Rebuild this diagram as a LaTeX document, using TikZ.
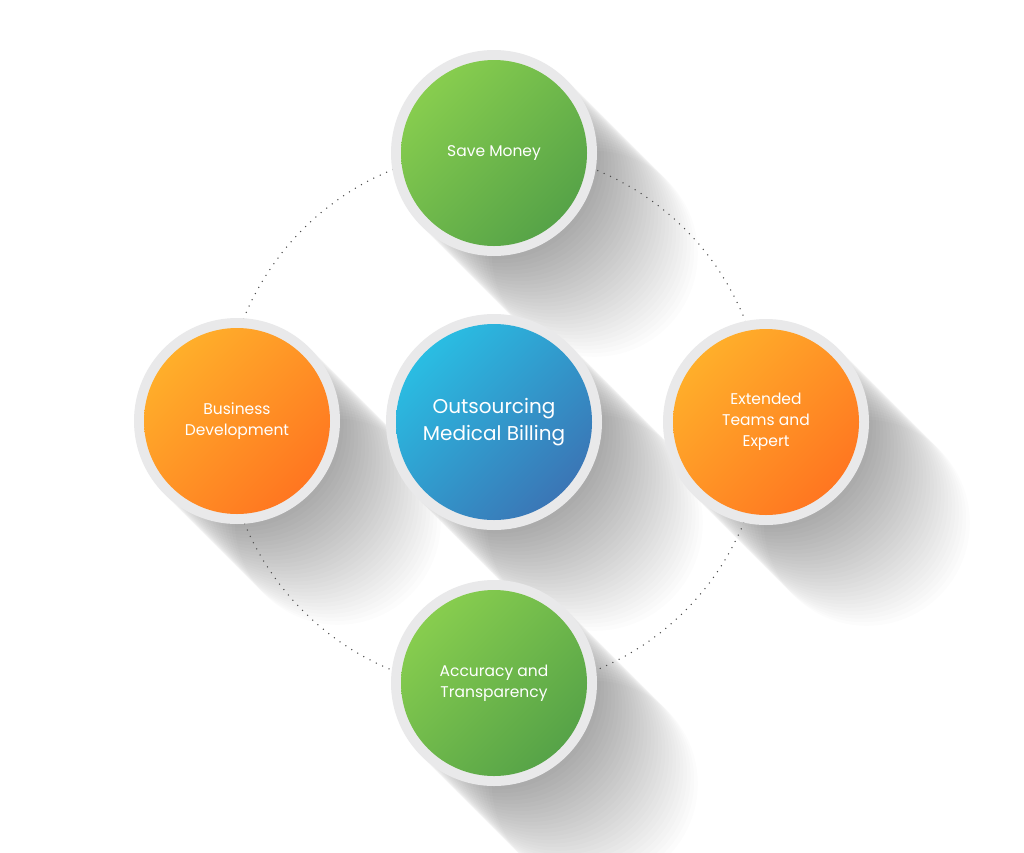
\documentclass[tikz,border=0pt]{standalone}
\usepackage{fontspec}
\setmainfont{Poppins}
\usetikzlibrary{shadings}
\definecolor{gA}{HTML}{92D650}\definecolor{gB}{HTML}{4C9A46}\definecolor{gM}{HTML}{6EB84B}
\definecolor{oA}{HTML}{FFBA2C}\definecolor{oB}{HTML}{FF6A1E}\definecolor{oM}{HTML}{FF9326}
\definecolor{bA}{HTML}{27CCEC}\definecolor{bB}{HTML}{3F67AC}\definecolor{bM}{HTML}{3199CC}
\definecolor{ring}{HTML}{E9E9EA}
\tikzset{lbl/.style={text=white,font=\fontsize{15.5}{21}\selectfont,align=center}}
\newcommand{\myshadow}[3]{%
 \foreach \k in {1,...,28}{\fill[black,opacity=0.012] ({#1+\k*3.6},{#2+\k*3.6}) circle (#3);}}
\newcommand{\mybubble}[7]{% name,x,y,R,colA,colM,colB
 \fill[ring] (#2,#3) circle (#4);
 \shade[upper left=#5,upper right=#6,lower left=#6,lower right=#7] (#2,#3) circle ({#4-10});
 \node (#1) at (#2,#3) {};
}
\begin{document}
\begin{tikzpicture}[x=1pt,y=-1pt]
\useasboundingbox (0,0) rectangle (1024,852);
\fill[white] (0,0) rectangle (1024,852);
\myshadow{494}{153}{103}
\myshadow{237}{421}{103}
\myshadow{766}{422}{103}
\myshadow{494}{683}{103}
\draw[black!70,line width=1.5pt,dash pattern=on 0pt off 7pt,line cap=round] (494,420) circle (270);
\myshadow{494}{422}{108}
\mybubble{top}{494}{153}{103}{gA}{gM}{gB}
\mybubble{left}{237}{421}{103}{oA}{oM}{oB}
\mybubble{right}{766}{422}{103}{oA}{oM}{oB}
\mybubble{bot}{494}{683}{103}{gA}{gM}{gB}
\mybubble{mid}{494}{422}{108}{bA}{bM}{bB}
\node[lbl] at (top) {Save Money};
\node[lbl] at (left) {Business\\Development};
\node[lbl] at (right) {Extended\\Teams and\\Expert};
\node[lbl] at (bot) {Accuracy and\\Transparency};
\node[lbl,font=\fontsize{20}{27}\selectfont] at (mid) {Outsourcing\\Medical Billing};
\end{tikzpicture}
\end{document}
